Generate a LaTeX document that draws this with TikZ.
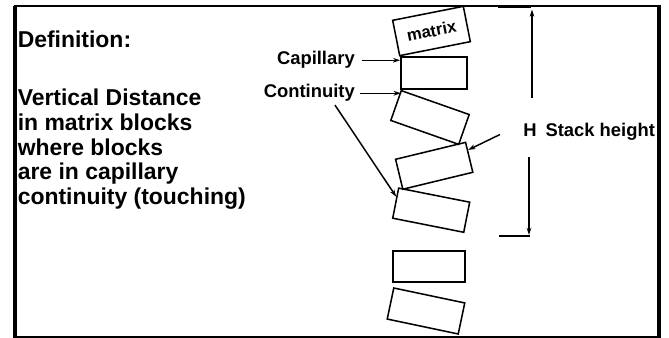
\documentclass[tikz,border=0pt]{standalone}
\usepackage{fontspec}
\setmainfont{Liberation Sans}
\usetikzlibrary{arrows.meta,calc}
\begin{document}
\begin{tikzpicture}[x=0.75pt,y=-0.75pt,
  block/.style={draw,line width=1.15pt,rectangle,inner sep=0pt,
    minimum width=54pt,minimum height=23.5pt},
  lbl/.style={font=\fontsize{13.8}{16}\selectfont\bfseries,inner sep=0pt},
  deftext/.style={font=\fontsize{17.2}{20}\selectfont\bfseries,inner sep=0pt,anchor=base west},
  pointer/.style={line width=1.1pt,-{Stealth[length=5.5pt,width=3.6pt]}},
  extline/.style={line width=1.2pt}]
\useasboundingbox (0,0) rectangle (669,338);

% outer frame
\draw[line width=2.6pt] (15,338) -- (15,6);
\draw[line width=2.2pt] (13.7,6) -- (660,6);
\draw[line width=3pt] (659,4.9) -- (659,338);
\draw[line width=1.5pt] (15,337) -- (659,337);

% definition text
\node[deftext] (d0) at (17.5,48)  {Definition:};
\node[deftext] (d1) at (17.5,106) {Vertical Distance};
\node[deftext] (d2) at (17.5,131) {in matrix blocks};
\node[deftext] (d3) at (17.5,155.5) {where blocks};
\node[deftext] (d4) at (17.5,180) {are in capillary};
\node[deftext] (d5) at (17.5,204.5) {continuity (touching)};

% stack of matrix blocks
\node[block,minimum height=27pt,rotate=11.2,
  font=\fontsize{12.5}{14}\selectfont\bfseries] (b1) at (431.5,31) {matrix};
\node[block,minimum width=49.5pt,minimum height=24pt] (b2) at (434,73) {};
\node[block,minimum height=23.7pt,rotate=-19.4] (b3) at (430,117.5) {};
\node[block,minimum height=23.1pt,rotate=13.6] (b4) at (434.2,165.8) {};
\node[block,minimum width=54.3pt,minimum height=23pt,rotate=-11.2] (b5) at (431.2,210.2) {};
\node[block,minimum height=23.3pt] (b6) at (429,266.5) {};
\node[block,minimum width=54.4pt,minimum height=23.8pt,rotate=-11.9] (b7) at (426,311) {};

% contact labels
\node[lbl,anchor=base east] (cap) at (355,65) {Capillary};
\node[lbl,anchor=base east] (cont) at (355,98) {Continuity};
\draw[pointer] ([xshift=5pt]cap.east) -- (cap.east -| b2.west);
\draw[pointer] ([xshift=4pt]cont.east) -- (cont.east -| b3.north west);
\draw[pointer] ($(cont.south east)+(-20,3)$) -- ($(b5.north west)!0.3!(b5.south west)$);

% stack height dimension
\node[lbl,anchor=base west] (hlab) at (523,137) {H\hspace{6.75pt}Stack height};
\coordinate (hp) at (500,134.5);
\draw[pointer] (hp) -- ($(b4.north east)!0.27!(b4.south east)$);

\coordinate (uptail) at (532,98);
\coordinate (uptip) at (532,9.5);
\coordinate (dntail) at (529,157);
\coordinate (dntip) at (529,235);
\draw[pointer] (uptail) -- (uptip);
\draw[pointer] (dntail) -- (dntip);
\draw[extline] (498,7.5) -- (531,7.5);
\draw[extline] (499,236) -- (530,236);
\end{tikzpicture}
\end{document}
